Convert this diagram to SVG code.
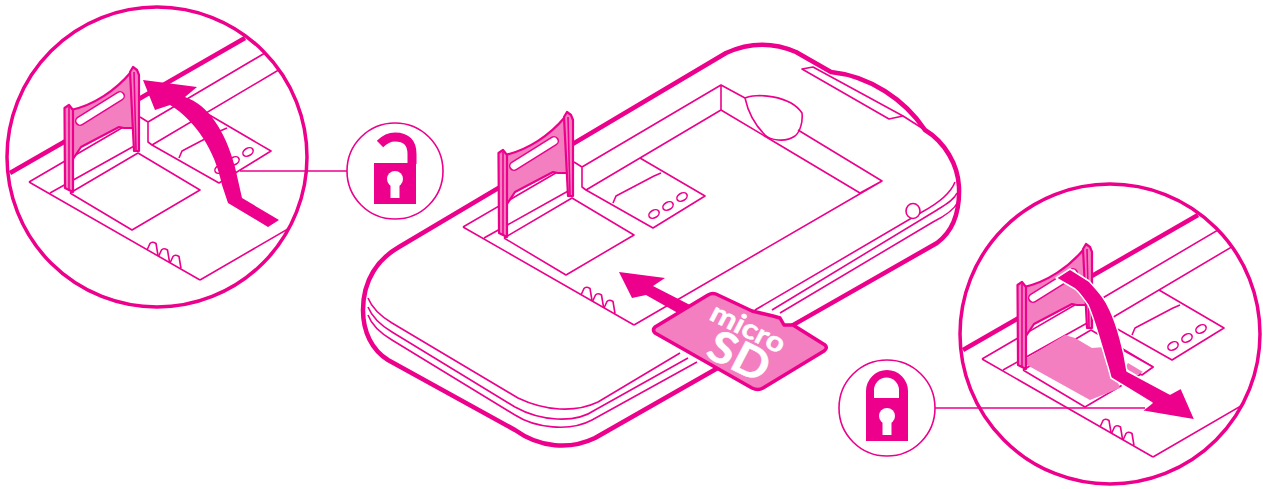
<svg xmlns="http://www.w3.org/2000/svg" xmlns:xlink="http://www.w3.org/1999/xlink" width="1263" height="489" viewBox="0 0 1263 489">
<style>
.t{fill:none;stroke:#ec008c;stroke-width:1.6;stroke-linejoin:round}
.k{fill:none;stroke:#ec008c;stroke-width:4.500;stroke-linejoin:round}
.f{fill:#ec008c}
.p{fill:#f47fc0;stroke:#ec008c;stroke-width:2.200;stroke-linejoin:round}
.c{fill:none;stroke:#ec008c;stroke-width:3.500}
.r{fill:#fff;stroke:#ec008c;stroke-width:1.6}
.w{fill:#fff}
.a{fill:#ec008c;stroke:#fff;stroke-width:1.500;stroke-linejoin:round}
text{fill:#fff;stroke:#fff;stroke-width:.5;font-family:"Lato","Noto Sans",sans-serif;font-weight:700}
</style>
<defs>
<clipPath id="cL"><circle cx="157" cy="157" r="150"/></clipPath>
<clipPath id="cR"><circle cx="1110" cy="334" r="150"/></clipPath>
<path id="tooth" d="M581 295L584 288.500Q586 286 590 288.500L592 300.500"/>
<g id="bayLines">
<path class="t" d="M582 167L721 85V110L586 190L582 187V167L574 162M721 85L745 98M721 110L860 193L882 181L798 130M882 181L634 325"/>
<path class="t" d="M640 158L705 196L653 228L586 190M661 173L654 176L616 196L613 203"/>
<g class="r"><ellipse cx="654" cy="214" rx="5.500" ry="3.800" transform="rotate(-30 654 214)"/><ellipse cx="668" cy="206" rx="5.500" ry="3.800" transform="rotate(-30 668 206)"/><ellipse cx="682" cy="197" rx="5.500" ry="3.800" transform="rotate(-30 682 197)"/></g>
<path class="t" d="M463 227L566 167M463 227L634 325M484 238L570 190M504 238L566 275L634 235L572 198L504 238"/>
<g class="t"><use xlink:href="#tooth" href="#tooth"/><use xlink:href="#tooth" href="#tooth" transform="translate(11.500 6.500)"/><use xlink:href="#tooth" href="#tooth" transform="translate(23 13)"/></g>
</g>
<g id="tray">
<path class="p" d="M505 155C528 150 550 135 565 117L570 173H558L553 172L515 192L507 204Z"/>
<path d="M514 166L554 141" fill="none" stroke="#ec008c" stroke-width="10" stroke-linecap="round"/>
<path d="M514 166L554 141" fill="none" stroke="#fff" stroke-width="7" stroke-linecap="round"/>
<path class="p" d="M498.500 153L503 150L507 155V237L499 233Z"/>
<path class="t" d="M503 152V235"/>
<path class="p" d="M564 117L567 112L571 115L573 120V196L568 196Z"/>
<path class="t" d="M568 117L570 195"/>
</g>
</defs>

<g id="device">
<path class="k" style="fill:#fff" d="M831 72C870 76 905 100 925 130C945 142 958 165 959 187C960 215 952 232 937 243L595 438C570 450 540 448 515 430L388 360C372 350 363 332 363 310C363 280 378 259 399 247L726 53Q761 37 796 52Z"/>
<path class="t" d="M368 298C372 308 382 317 392 323L518 398C545 411 575 413 598 402L680 353"/>
<path class="t" d="M368 307C372 317 382 326 392 332L515 407C540 421 575 424 595 410L688 358"/>
<path class="t" d="M368 315C372 326 382 334 392 340L515 415C535 428 570 432 592 420L697 362"/>
<path class="t" d="M755 310L922 212C935 205 950 195 955 182"/>
<path class="t" d="M772 310L937 210C945 205 954 200 957 193"/>
<path class="t" d="M780 313L933 222C945 216 954 210 958 202"/>
<ellipse class="r" cx="913" cy="211" rx="7" ry="7.500"/>
<path class="t" style="fill:#fff" d="M802 69L889 119L903 116L813 67Z"/>
<path class="t" d="M903 116L925 130"/>
<path class="t" style="fill:#fff" d="M745 98C755 93 790 95 802 113C803 122 800 132 795 136C785 143 770 140 765 135C755 125 748 112 745 98Z"/>
<use xlink:href="#bayLines" href="#bayLines"/>
<use xlink:href="#tray" href="#tray"/>
<path class="f" d="M619 272L665 278L653 286L692 306L685 317L646 295L632 298Z"/>
</g>

<g id="micro-sd-card">
<path style="fill:#f47fc0;stroke:#ec008c;stroke-width:3.500;stroke-linejoin:round" d="M655 327L708 295Q713 292 718 295L752 311L773 316L780 318L784 325L793 325L825 345Q828 348 824 351L763 388Q758 391 752 388L655 333Q652 330 655 327Z"/>
<text transform="matrix(1.020 .5 -.46 .88 708 319)" font-size="28">micro</text>
<text transform="matrix(.98 .48 -.46 .88 704 356)" font-size="44">SD</text>
</g>

<g id="inset-unlock">
<g clip-path="url(#cL)">
<path class="k" d="M10 173L245 38"/>
<g transform="translate(-434 -45)"><use xlink:href="#bayLines" href="#bayLines"/></g>
<g transform="translate(-434 -45)"><use xlink:href="#tray" href="#tray"/></g>
<path class="f" d="M143 80L197 87L185 97C208 105 225 130 235 167L242 198L279 220L268 227L228 203L222 185C215 150 195 120 170 105L155 110Z"/>
</g>
<circle class="c" cx="157" cy="157" r="150"/>
</g>

<g id="inset-lock">
<g clip-path="url(#cR)">
<path class="k" d="M963 350L1198 215"/>
<g transform="translate(519 132)"><use xlink:href="#bayLines" href="#bayLines"/></g>
<path class="t" style="fill:#fff" d="M1123 350L1153 367L1142 375L1112 358Z"/>
<path style="fill:#f47fc0" d="M1128 363L1143 372L1137 375L1125 368Z"/>
<path style="fill:#f47fc0" d="M1027 358L1065 335L1075 338L1092 348L1105 347L1120 388L1090 400L1027 365Z"/>
<g transform="translate(519 132)"><use xlink:href="#tray" href="#tray"/></g>
<path class="a" d="M1056 278L1070 269L1089 281C1100 293 1106 300 1110 310C1117 325 1124 350 1127 371L1170 394L1181 388L1195 420L1142 411L1152 403L1111 378L1108 367C1104 355 1095 320 1088 305C1083 298 1080 293 1075 289Z"/>
</g>
<circle class="c" cx="1110" cy="334" r="150"/>
</g>

<g id="lock-open">
<circle class="r" cx="395" cy="171" r="48"/>
<path class="f" d="M374 163H416V204H374Z"/>
<path fill="none" stroke="#ec008c" stroke-width="9" d="M380 144Q387 137 395 137Q412 137 412 154V164"/>
<circle class="w" cx="395" cy="179" r="8"/><path class="w" d="M390.500 182H399.500V198H390.500Z"/>
</g>
<g id="lock-closed">
<circle class="r" cx="887" cy="408" r="48"/>
<path class="f" fill-rule="evenodd" d="M866 441V391A21 21 0 0 1 908 391V441ZM874 398H899V390A12.500 12.500 0 0 0 874 390Z"/>
<circle class="w" cx="887" cy="416" r="8"/><path class="w" d="M882.500 419H891.500V435H882.500Z"/>
</g>
<g id="connectors">
<path class="t" d="M240 171H347M935 408H1145"/>
</g>
</svg>
